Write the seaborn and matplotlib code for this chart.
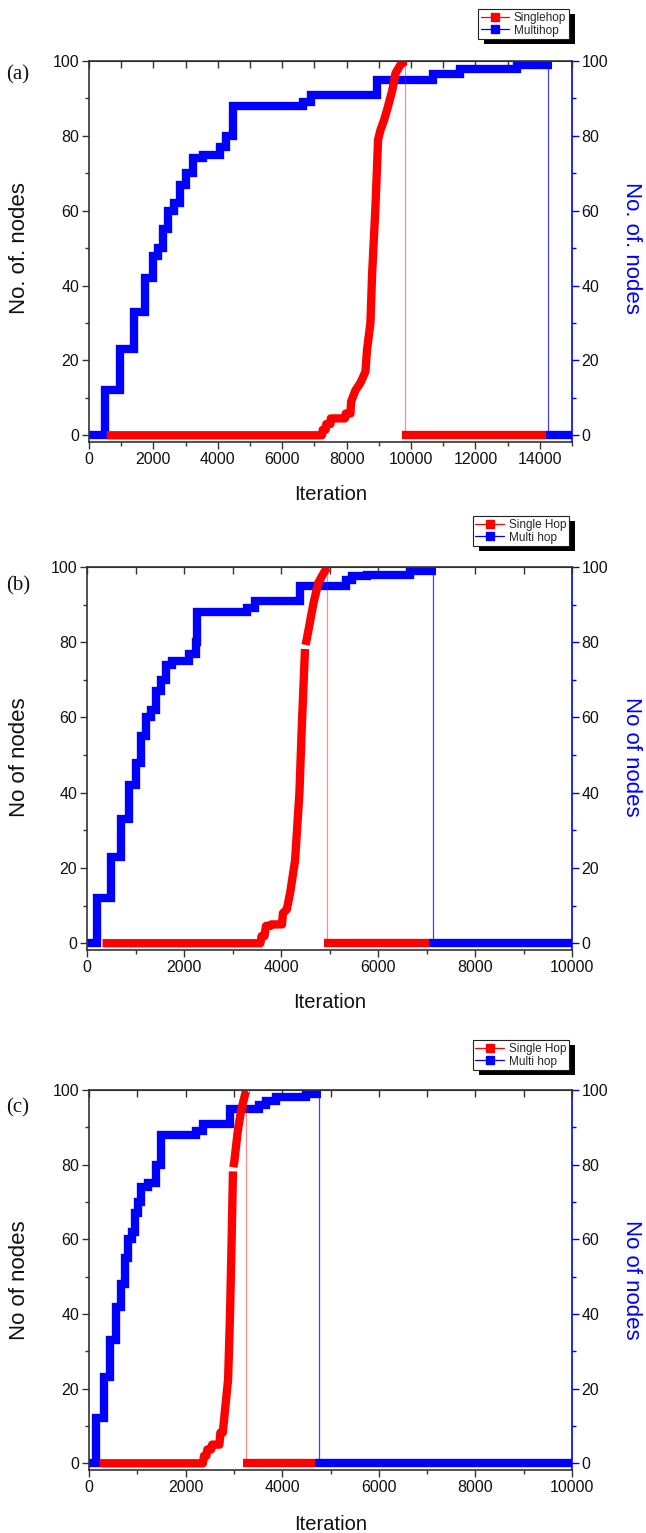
import matplotlib
matplotlib.use("Agg")
import matplotlib.pyplot as plt
import seaborn as sns
from matplotlib.lines import Line2D
from matplotlib.patches import Rectangle
from matplotlib.ticker import MultipleLocator

sns.set_style("ticks")
plt.rcParams["font.family"] = ["Liberation Sans", "DejaVu Sans"]

# ---------------- data ----------------
# Panel (a)
A_MULTI_X = [0, 490, 955, 1390, 1730, 1990, 2150, 2300, 2450, 2650, 2830, 3010, 3230, 3540,
             4060, 4250, 4470, 6640, 6900, 8935, 10680, 11520, 13280, 14370]
A_MULTI_Y = [0, 12, 23, 33, 42, 48, 50, 55, 60, 62, 67, 70, 74, 75,
             77, 80, 88, 89, 91, 95, 96.5, 97.8, 99, 99]
A_MULTI_DROP = 14260
A_MULTI_ZERO = [14180, 15000]
A_SINGLE_X = [550, 7237, 7260, 7350, 7370, 7496, 7510, 7950, 7970, 8119, 8140, 8274, 8430,
              8585, 8636, 8740, 8792, 8896, 8978, 9050, 9155, 9259, 9414, 9518, 9673, 9829, 9880]
A_SINGLE_Y = [0, 0, 1.5, 1.5, 3, 3, 4.5, 4.5, 5.8, 5.8, 9, 12, 14,
              17, 23, 30, 43, 61, 79, 81.5, 84, 87, 92, 96.7, 99, 100, 100]
A_SINGLE_BREAK = None
A_SINGLE_DROP = 9829
A_SINGLE_ZERO = [9725, 14180]

# Panel (b)
B_MULTI_X = [0, 205, 490, 700, 870, 1000, 1110, 1210, 1320, 1420, 1520, 1620, 1760,
             2100, 2240, 2270, 3300, 3470, 4400, 5330, 5470, 5780, 6650, 7190]
B_MULTI_Y = [0, 12, 23, 33, 42, 48, 55, 60, 62, 67, 70, 74, 75,
             77, 80, 88, 89, 91, 95, 96.5, 97.5, 98, 99, 99]
B_MULTI_DROP = 7130
B_MULTI_ZERO = [7050, 10000]
B_SINGLE_X = [320, 3575, 3600, 3660, 3690, 3780, 3800, 4020, 4040, 4120, 4190, 4290, 4380,
              4430, 4495, 4505, 4530, 4620, 4680, 4770, 4880, 4960, 5000]
B_SINGLE_Y = [0, 0, 1.9, 1.9, 4.6, 4.6, 5, 5, 8, 9, 13.5, 22, 40,
              58, 78.2, 79.3, 80.7, 87, 91, 95.8, 98.4, 100, 100]
B_SINGLE_BREAK = 15
B_SINGLE_DROP = 4945
B_SINGLE_ZERO = [4880, 7050]

# Panel (c)
C_MULTI_X = [0, 150, 320, 430, 565, 670, 740, 810, 880, 945, 1010, 1080, 1220, 1390,
             1500, 2220, 2360, 2910, 3530, 3670, 3880, 4500, 4810]
C_MULTI_Y = [0, 12, 23, 33, 42, 48, 55, 60, 62, 67, 70, 74, 75, 80,
             88, 89, 91, 95, 96, 97, 98, 99, 99]
C_MULTI_DROP = 4760
C_MULTI_ZERO = [4670, 10000]
C_SINGLE_X = [220, 2360, 2380, 2430, 2450, 2530, 2550, 2700, 2720, 2770, 2810, 2880, 2920,
              2950, 2981, 2988, 3010, 3080, 3150, 3255, 3290]
C_SINGLE_Y = [0, 0, 2, 2, 3.7, 3.7, 5, 5, 8.2, 8.2, 13.5, 22.5, 40,
              58, 78.2, 79.3, 81, 89, 94.6, 100, 100]
C_SINGLE_BREAK = 15
C_SINGLE_DROP = 3255
C_SINGLE_ZERO = [3190, 4670]

PANEL_TAGS = ["(a)", "(b)", "(c)"]
YLABELS = ["No. of. nodes", "No of nodes", "No of nodes"]
LEGEND_LABELS = [["Singlehop", "Multihop"], ["Single Hop", "Multi hop"], ["Single Hop", "Multi hop"]]
XMAX = [15000, 10000, 10000]
XLABEL = "Iteration"

RED = "#FF0000"
BLUE = "#0000FF"

W, H = 646, 1533
fig = plt.figure(figsize=(W / 100, H / 100), dpi=100)

LAYOUT = [
    dict(l=89, r=572, t=61, b=442, tag_y=75, leg_top=9, xl_y=494, yl_y=248),
    dict(l=87, r=572, t=567, b=950, tag_y=586, leg_top=516, xl_y=1003, yl_y=757),
    dict(l=89, r=572, t=1090, b=1470, tag_y=1108, leg_top=1040, xl_y=1524, yl_y=1280),
]

panels = [
    (A_MULTI_X, A_MULTI_Y, A_MULTI_DROP, A_MULTI_ZERO, A_SINGLE_X, A_SINGLE_Y, A_SINGLE_BREAK, A_SINGLE_DROP, A_SINGLE_ZERO),
    (B_MULTI_X, B_MULTI_Y, B_MULTI_DROP, B_MULTI_ZERO, B_SINGLE_X, B_SINGLE_Y, B_SINGLE_BREAK, B_SINGLE_DROP, B_SINGLE_ZERO),
    (C_MULTI_X, C_MULTI_Y, C_MULTI_DROP, C_MULTI_ZERO, C_SINGLE_X, C_SINGLE_Y, C_SINGLE_BREAK, C_SINGLE_DROP, C_SINGLE_ZERO),
]

THICK = 6.0
TICKFS = 11.5
XLABELFS = 14.5
YLABELFS = 16
YMIN = -1.8

legends = []
for i, (lay, data) in enumerate(zip(LAYOUT, panels)):
    mx, my, mdrop, mzero, sx, sy, sbreak, sdrop, szero = data
    rect = [lay["l"] / W, 1 - lay["b"] / H, (lay["r"] - lay["l"]) / W, (lay["b"] - lay["t"]) / H]
    ax = fig.add_axes(rect)
    ax2 = ax.twinx()
    ax.set_zorder(2)
    ax.patch.set_visible(False)

    # multi hop (blue)
    sns.lineplot(x=mx, y=my, ax=ax, color=BLUE, linewidth=THICK, drawstyle="steps-post",
                 estimator=None, sort=False, solid_joinstyle="miter", solid_capstyle="butt")
    sns.lineplot(x=[mdrop, mdrop], y=[my[-1], 0], ax=ax, color=BLUE, linewidth=0.9, alpha=0.75,
                 estimator=None, sort=False)
    sns.lineplot(x=mzero, y=[0, 0], ax=ax, color=BLUE, linewidth=THICK,
                 estimator=None, sort=False, solid_capstyle="butt")
    # single hop (red)
    parts = [(sx, sy)] if sbreak is None else [(sx[:sbreak], sy[:sbreak]), (sx[sbreak:], sy[sbreak:])]
    for px_, py_ in parts:
        sns.lineplot(x=px_, y=py_, ax=ax, color=RED, linewidth=THICK,
                     estimator=None, sort=False, solid_joinstyle="round", solid_capstyle="butt")
    sns.lineplot(x=[sdrop, sdrop], y=[sy[-1], 0], ax=ax, color=RED, linewidth=0.9, alpha=0.45,
                 estimator=None, sort=False)
    sns.lineplot(x=szero, y=[0, 0], ax=ax, color=RED, linewidth=THICK,
                 estimator=None, sort=False, solid_capstyle="butt")

    xmax = XMAX[i]
    for a in (ax, ax2):
        a.set_xlim(0, xmax)
        a.set_ylim(YMIN, 100)
    ax.xaxis.set_major_locator(MultipleLocator(2000))
    ax.xaxis.set_minor_locator(MultipleLocator(1000))
    ax.yaxis.set_major_locator(MultipleLocator(20))
    ax.yaxis.set_minor_locator(MultipleLocator(10))
    ax2.yaxis.set_major_locator(MultipleLocator(20))
    ax2.yaxis.set_minor_locator(MultipleLocator(10))

    ax.tick_params(axis="both", which="major", direction="out", length=5, width=1.0,
                   labelsize=TICKFS, color="#333333", labelcolor="#111111", pad=2)
    ax.tick_params(axis="both", which="minor", direction="out", length=3, width=1.0, color="#333333")
    ax.tick_params(axis="y", which="both", right=False)
    ax2.tick_params(axis="y", which="major", direction="out", length=5, width=1.0,
                    labelsize=TICKFS, color=BLUE, labelcolor="#111111", pad=2)
    ax2.tick_params(axis="y", which="minor", direction="out", length=3, width=1.0, color=BLUE)

    sec = ax.secondary_xaxis("top")
    sec.xaxis.set_major_locator(MultipleLocator(1000))
    sec.tick_params(direction="in", length=5, width=1.0, labeltop=False, color="#333333")
    sec.spines["top"].set_color("#222222")

    for s in ("left", "bottom", "top"):
        ax.spines[s].set_color("#333333")
        ax.spines[s].set_linewidth(1.2)
    ax.spines["right"].set_visible(False)
    for s in ("left", "bottom", "top"):
        ax2.spines[s].set_visible(False)
    ax2.spines["right"].set_color(BLUE)
    ax2.spines["right"].set_linewidth(1.2)
    ax.set_xlabel("")
    ax.set_ylabel("")
    ax2.set_ylabel("")

    fig.text(lay["l"] / W + (lay["r"] - lay["l"]) / W / 2, 1 - lay["xl_y"] / H, XLABEL,
             ha="center", va="center", fontsize=XLABELFS, color="#111111")
    fig.text(20 / W, 1 - lay["yl_y"] / H, YLABELS[i], rotation=90, ha="center", va="center",
             fontsize=YLABELFS, color="#111111")
    fig.text(632 / W, 1 - lay["yl_y"] / H, YLABELS[i], rotation=-90, ha="center", va="center",
             fontsize=YLABELFS, color=BLUE)
    fig.text(6 / W, 1 - lay["tag_y"] / H, PANEL_TAGS[i], ha="left", va="center", fontsize=15,
             family=["Liberation Serif", "DejaVu Serif"], color="#111111")

    handles = [Line2D([], [], color=RED, lw=0.9, marker="s", markersize=6, markeredgecolor=RED),
               Line2D([], [], color=BLUE, lw=0.9, marker="s", markersize=6, markeredgecolor=BLUE)]
    leg = fig.legend(handles, LEGEND_LABELS[i], loc="upper right",
                     bbox_to_anchor=(569 / W, 1 - lay["leg_top"] / H), fontsize=8.5,
                     frameon=True, fancybox=False, framealpha=1, numpoints=1, handlelength=2.4,
                     handletextpad=0.4, borderpad=0.25, labelspacing=0.05, borderaxespad=0)
    leg.get_frame().set_edgecolor("#222222")
    leg.get_frame().set_facecolor("white")
    leg.get_frame().set_linewidth(0.8)
    leg.set_zorder(6)
    legends.append(leg)

fig.canvas.draw()
for leg in legends:
    bb = leg.get_window_extent()
    shadow = Rectangle((bb.x0 + 6, bb.y0 - 5), bb.width, bb.height, transform=None,
                       facecolor="black", edgecolor="none", zorder=5)
    fig.add_artist(shadow)

fig.savefig("out.png", dpi=100)
